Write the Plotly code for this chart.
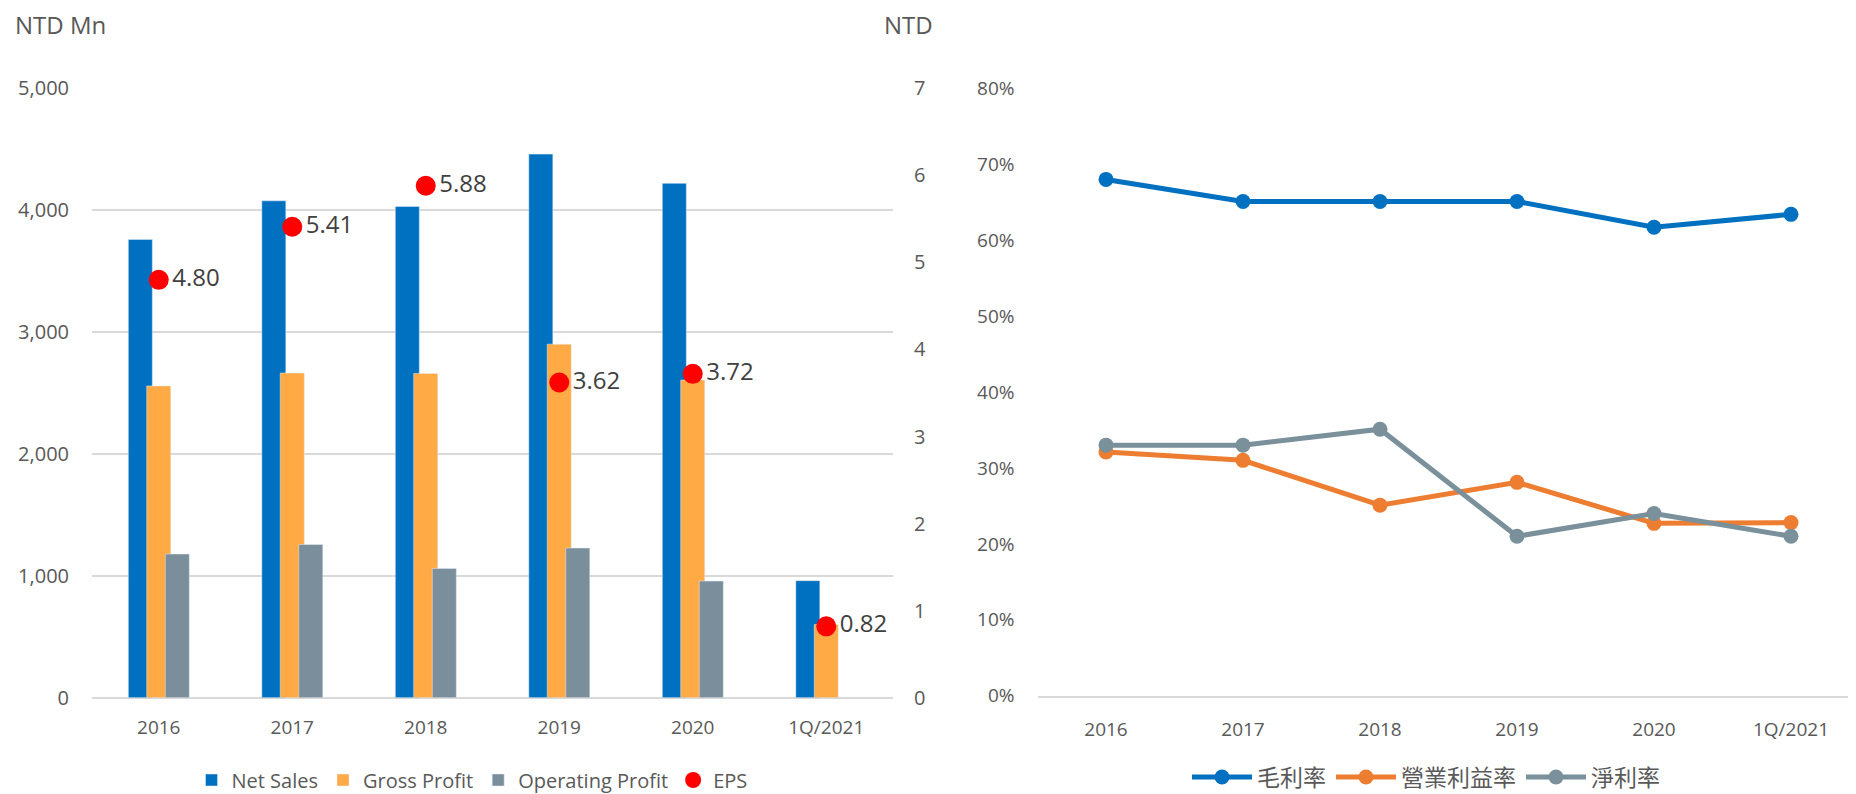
import plotly.graph_objects as go

categories = ["2016", "2017", "2018", "2019", "2020", "1Q/2021"]
net_sales = [3760, 4077, 4030, 4460, 4220, 960]
gross_profit = [2558, 2664, 2661, 2901, 2606, 600]
operating_profit = [1179, 1257, 1061, 1228, 957, None]
eps = [4.80, 5.41, 5.88, 3.62, 3.72, 0.82]
eps_labels = ["4.80", "5.41", "5.88", "3.62", "3.72", "0.82"]

gross_margin = [0.68, 0.651, 0.651, 0.651, 0.617, 0.634]
operating_margin = [0.321, 0.310, 0.251, 0.281, 0.227, 0.228]
net_margin = [0.330, 0.330, 0.351, 0.210, 0.240, 0.210]

OFF = 8  # page body margin
W, H = 1856 - OFF, 794 - OFF
FONT = "Open Sans, Noto Sans CJK TC, sans-serif"
TXT = "#595959"

fig = go.Figure()

bar_w = 0.18
fig.add_trace(go.Bar(x=categories, y=net_sales, name="Net Sales", marker_color="#0070C0",
                     width=bar_w, offset=-0.228, xaxis="x", yaxis="y", legend="legend"))
fig.add_trace(go.Bar(x=categories, y=gross_profit, name="Gross Profit", marker_color="#FFAA44",
                     width=bar_w, offset=-0.09, xaxis="x", yaxis="y", legend="legend"))
fig.add_trace(go.Bar(x=categories, y=operating_profit, name="Operating Profit", marker_color="#7A8F9B",
                     width=bar_w, offset=0.049, xaxis="x", yaxis="y", legend="legend"))
fig.add_trace(go.Scatter(x=categories, y=eps, name="EPS", mode="markers+text",
                         marker=dict(color="#FF0000", size=20),
                         text=eps_labels, textposition="middle right",
                         textfont=dict(size=24, color="#404040", family=FONT),
                         xaxis="x", yaxis="y2", legend="legend"))

line_specs = [("毛利率", gross_margin, "#0070C0"),
              ("營業利益率", operating_margin, "#ED7D31"),
              ("淨利率", net_margin, "#7A909B")]
for name, vals, col in line_specs:
    fig.add_trace(go.Scatter(x=categories, y=vals, name=name, mode="lines+markers",
                             line=dict(color=col, width=5),
                             marker=dict(color=col, size=15),
                             xaxis="x2", yaxis="y3", legend="legend2"))

px = lambda v: (v - OFF) / W
py = lambda v: 1 - (v - OFF) / H

fig.update_layout(
    width=W, height=H,
    margin=dict(l=0, r=0, t=0, b=0, autoexpand=False),
    paper_bgcolor="white", plot_bgcolor="white",
    font=dict(family=FONT, color=TXT, size=19),
    barmode="overlay",
    xaxis=dict(domain=[px(92), px(893)], type="category", range=[-0.5, 5.5],
               showgrid=False, showline=False, ticks="", ticklabelstandoff=16,
               automargin=False, tickfont=dict(size=19, color=TXT)),
    yaxis=dict(domain=[py(697.7), py(88.3)], range=[0, 5000], dtick=1000,
               tickformat=",d", showgrid=True, gridcolor="#D9D9D9", gridwidth=1.5,
               zeroline=True, zerolinecolor="#D9D9D9", zerolinewidth=1.5,
               ticks="", ticklabelstandoff=22, automargin=False,
               tickfont=dict(size=20, color=TXT)),
    yaxis2=dict(overlaying="y", side="right", anchor="x", range=[0, 7], dtick=1,
                showgrid=False, zeroline=False, ticks="", ticklabelstandoff=20,
                automargin=False, tickfont=dict(size=20, color=TXT)),
    xaxis2=dict(domain=[px(1037.5), 1.0], type="category",
                range=[-0.5, 5.5 - (1859.5 - (OFF + W)) / 137.0],
                anchor="y3", showgrid=False, showline=True, linecolor="#D9D9D9", linewidth=1.5,
                ticks="", ticklabelstandoff=16, automargin=False,
                tickfont=dict(size=19, color=TXT)),
    yaxis3=dict(domain=[py(695.7), py(88.3)], anchor="x2", range=[0, 0.8], dtick=0.1,
                tickformat=".0%", showgrid=False, zeroline=False, ticks="",
                ticklabelstandoff=22, automargin=False,
                tickfont=dict(size=19, color=TXT)),
    legend=dict(orientation="h", x=px(472), xanchor="center", y=py(780), yanchor="middle",
                font=dict(size=20, color=TXT), bgcolor="rgba(0,0,0,0)", traceorder="normal"),
    legend2=dict(orientation="h", x=px(1426), xanchor="center", y=py(777), yanchor="middle",
                 font=dict(size=23, color=TXT), bgcolor="rgba(0,0,0,0)", traceorder="normal",
                 itemwidth=60),
    annotations=[
        dict(text="NTD Mn", x=px(13), y=py(25), xref="paper", yref="paper",
             xanchor="left", yanchor="middle", showarrow=False,
             font=dict(size=24, color=TXT, family=FONT)),
        dict(text="NTD", x=px(908), y=py(25), xref="paper", yref="paper",
             xanchor="center", yanchor="middle", showarrow=False,
             font=dict(size=24, color=TXT, family=FONT)),
    ],
)

fig.write_html("out.html")
